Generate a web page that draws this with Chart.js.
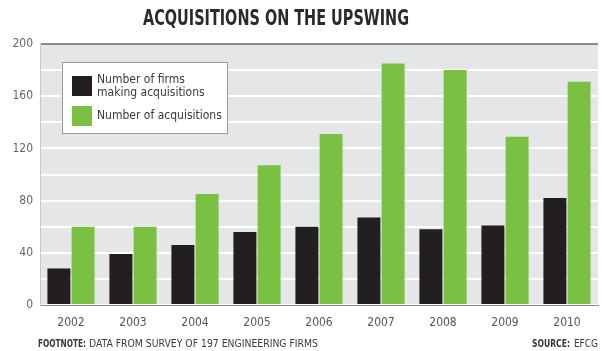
<!DOCTYPE html>
<html>
<head>
<meta charset="utf-8">
<script src="https://cdn.jsdelivr.net/npm/chart.js@4/dist/chart.umd.min.js"></script>
<style>
  html, body { margin: 0; padding: 0; background: #fff; }
  #wrap { width: 602px; height: 351px; position: relative; }
</style>
</head>
<body>
<div id="wrap"><canvas id="acqChart" width="602" height="351"></canvas></div>
<script>
// chart data
const years = ['2002', '2003', '2004', '2005', '2006', '2007', '2008', '2009', '2010'];
const firmsMaking = [28, 39, 46, 56, 60, 67, 58, 61, 82];
const acquisitions = [60, 60, 85, 107, 131, 185, 180, 129, 171];
const seriesNames = [['Number of firms', 'making acquisitions'], ['Number of acquisitions']];
const seriesColors = ['#231f20', '#7ac143'];

const narrow = '"DejaVu Sans Condensed", "Liberation Sans", sans-serif';

// gray plot background
const plotBg = {
    id: 'plotBg',
    beforeDraw(chart) {
        const { ctx, chartArea: a } = chart;
        ctx.save();
        ctx.fillStyle = '#e5e6e8';
        ctx.fillRect(a.left, a.top, a.right - a.left, a.bottom - a.top);
        ctx.restore();
    }
};

// title, boxed legend inside the plot, footnote line
const extras = {
    id: 'extras',
    afterDraw(chart) {
        const { ctx, chartArea: a } = chart;
        ctx.save();

        // title
        ctx.fillStyle = '#2a2a2a';
        ctx.font = 'bold 21px ' + narrow;
        ctx.textAlign = 'center';
        ctx.textBaseline = 'middle';
        ctx.fillText('ACQUISITIONS ON THE UPSWING', 276, 20, 266);

        // legend
        const x = a.left + 22, y = a.top + 18;
        ctx.textAlign = 'left';
        ctx.fillStyle = '#ffffff';
        ctx.fillRect(x, y, 165, 71);
        ctx.strokeStyle = '#9a9a9a';
        ctx.lineWidth = 1;
        ctx.strokeRect(x + 0.5, y + 0.5, 165, 71);

        ctx.font = '12px ' + narrow;
        const rows = [y + 14, y + 44];
        chart.data.datasets.forEach((ds, i) => {
            ctx.fillStyle = ds.backgroundColor;
            ctx.fillRect(x + 10, rows[i], 20, 20);
            ctx.fillStyle = '#3a3a3a';
            const lines = seriesNames[i];
            if (lines.length === 2) {
                ctx.fillText(lines[0], x + 35, rows[i] + 4, 125);
                ctx.fillText(lines[1], x + 35, rows[i] + 17, 125);
            } else {
                ctx.fillText(lines[0], x + 35, rows[i] + 10, 125);
            }
        });

        // footnote and source
        const fy = 344;
        ctx.fillStyle = '#3a3a3a';
        ctx.font = 'bold 10px ' + narrow;
        ctx.fillText('FOOTNOTE:', 38, fy, 48);
        ctx.font = '10.5px ' + narrow;
        ctx.fillText('DATA FROM SURVEY OF 197 ENGINEERING FIRMS', 89, fy, 229);

        ctx.textAlign = 'right';
        ctx.font = '10px ' + narrow;
        ctx.fillText('EFCG', 598, fy, 26);
        ctx.font = 'bold 10px ' + narrow;
        ctx.fillText('SOURCE:', 570, fy, 38);
        ctx.restore();
    }
};

new Chart(document.getElementById('acqChart'), {
    type: 'bar',
    data: {
        labels: years,
        datasets: [
            { label: seriesNames[0].join(' '), data: firmsMaking, backgroundColor: seriesColors[0] },
            { label: seriesNames[1][0], data: acquisitions, backgroundColor: seriesColors[1] }
        ]
    },
    options: {
        responsive: false,
        animation: false,
        categoryPercentage: 0.78,
        barPercentage: 0.95,
        layout: { padding: { left: 4, right: 4, top: 44, bottom: 0 } },
        plugins: {
            legend: { display: false },
            tooltip: { enabled: false },
            title: { display: false }
        },
        scales: {
            x: {
                grid: { display: false },
                border: { color: '#8a8a8a' },
                ticks: { color: '#555', font: { family: narrow, size: 12 }, padding: 3 },
                afterFit(scale) { scale.height = 46; }
            },
            y: {
                min: 0,
                max: 200,
                grid: {
                    color: ctx => ctx.tick.value === 200 ? '#8a8a8a' : '#ffffff',
                    lineWidth: 2,
                    drawTicks: false
                },
                border: { color: '#c8c8c8' },
                ticks: {
                    stepSize: 20,
                    color: '#666',
                    font: { family: narrow, size: 12 },
                    padding: 7,
                    callback: v => (v % 40 === 0 ? v : '')
                },
                afterFit(scale) { scale.width = 36; }
            }
        }
    },
    plugins: [plotBg, extras]
});
</script>
</body>
</html>
